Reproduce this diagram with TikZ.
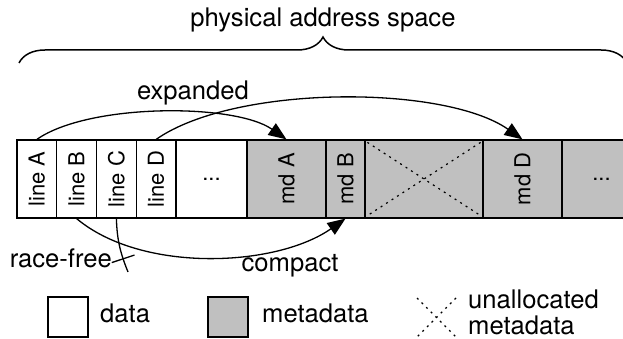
\documentclass[tikz,border=0pt]{standalone}
\usepackage{fontspec}
\setmainfont{TeX Gyre Heros}
\usetikzlibrary{arrows.meta,decorations.pathreplacing,positioning}
\definecolor{mdgray}{RGB}{192,192,192}
\tikzset{
    cell/.style={draw, line width=1.2pt, minimum height=78pt, inner sep=0pt, font=\fontsize{22}{22}\selectfont},
    datacell/.style={cell, fill=white},
    mdcell/.style={cell, fill=mdgray},
    arr/.style={line width=1.3pt, -{Triangle[length=18pt,width=14pt]}},
    unalloc/.style={line width=1.2pt, dash pattern=on 2pt off 4.5pt},
    lbl/.style={inner sep=0pt, font=\fontsize{25.6}{26}\selectfont},
    tick/.style={draw, line width=1.3pt, minimum width=0pt, minimum height=24pt, inner sep=0pt}
}

\begin{document}
\begin{tikzpicture}[x=1pt,y=1pt]

    % Fix the page size and cut what runs over the right edge
    \useasboundingbox (0,0) rectangle (623,339);
    \clip (0,0) rectangle (623,339);

    % Brace over the whole address space
    \coordinate (braceL) at (19,276);
    \coordinate (braceR) at (627,276);
    \draw[decorate, decoration={brace, amplitude=26pt}, line width=1.5pt] (braceL) -- (braceR);
    \node[lbl, anchor=base] (title) at (323,312) {physical address space};

    % Data lines A to D in a loop
    \foreach \l [count=\i] in {A,B,C,D}{
        \node[datacell, minimum width=39.75pt] (line\l) at ({17+39.75*(\i-0.5)},160) {\rotatebox{90}{line \l}};
    }
    \node[datacell, minimum width=71pt] (datadots) at (211.5,160) {...};

    % Metadata cells
    \node[mdcell, minimum width=79pt] (mdA) at (286.5,160) {\rotatebox{90}{md A}};
    \node[mdcell, minimum width=39pt] (mdB) at (345.5,160) {\rotatebox{90}{md B}};
    \node[mdcell, minimum width=118pt] (free) at (424,160) {};
    \node[mdcell, minimum width=79pt] (mdD) at (522.5,160) {\rotatebox{90}{md D}};
    \node[mdcell, minimum width=79pt] (mddots) at (601.5,160) {...};

    % Cross out the unallocated metadata
    \draw[unalloc] ([shift={(3,-3)}]free.north west) -- ([shift={(-3,3)}]free.south east);
    \draw[unalloc] ([shift={(-3,-3)}]free.north east) -- ([shift={(3,3)}]free.south west);

    % Expanded mapping above the row
    \draw[arr] (lineA.north) to[out=35, in=145, looseness=0.65] (mdA.north);
    \draw[arr] (lineD.north) to[out=35, in=145, looseness=0.67] (mdD.north);
    \node[lbl, anchor=base] (expanded) at (193,239) {expanded};

    % Compact mapping below the row
    \draw[arr] (lineB.south) to[out=-40, in=-145, looseness=0.81] (mdB.south);
    \node[lbl, anchor=base] (compact) at (290,67) {compact};

    % Race-free line, ended by a bar
    \coordinate (rfend) at (128,67);
    \draw[line width=1.3pt] (lineC.south) to[out=-88, in=112] node[pos=0.76, sloped, tick] (rfbar) {} (rfend);
    \node[lbl, anchor=base east] (racefree) at (112,71) {race-free};

    % Legend
    \node[draw, line width=1.2pt, fill=white, minimum size=40pt, inner sep=0pt] (keydata) at (68,22) {};
    \node[lbl, anchor=base west] (keydatatxt) at (100,16) {data};
    \node[draw, line width=1.2pt, fill=mdgray, minimum size=40pt, inner sep=0pt] (keymd) at (228,22) {};
    \node[lbl, anchor=base west] (keymdtxt) at (262,16) {metadata};
    \coordinate (keyfreeA) at (417,41);
    \coordinate (keyfreeB) at (456,2);
    \coordinate (keyfreeC) at (456,41);
    \coordinate (keyfreeD) at (417,2);
    \draw[unalloc] (keyfreeA) -- (keyfreeB);
    \draw[unalloc] (keyfreeC) -- (keyfreeD);
    \node[lbl, anchor=north west, align=left] (keyfreetxt) at (468,49) {unallocated\\metadata};

\end{tikzpicture}
\end{document}
